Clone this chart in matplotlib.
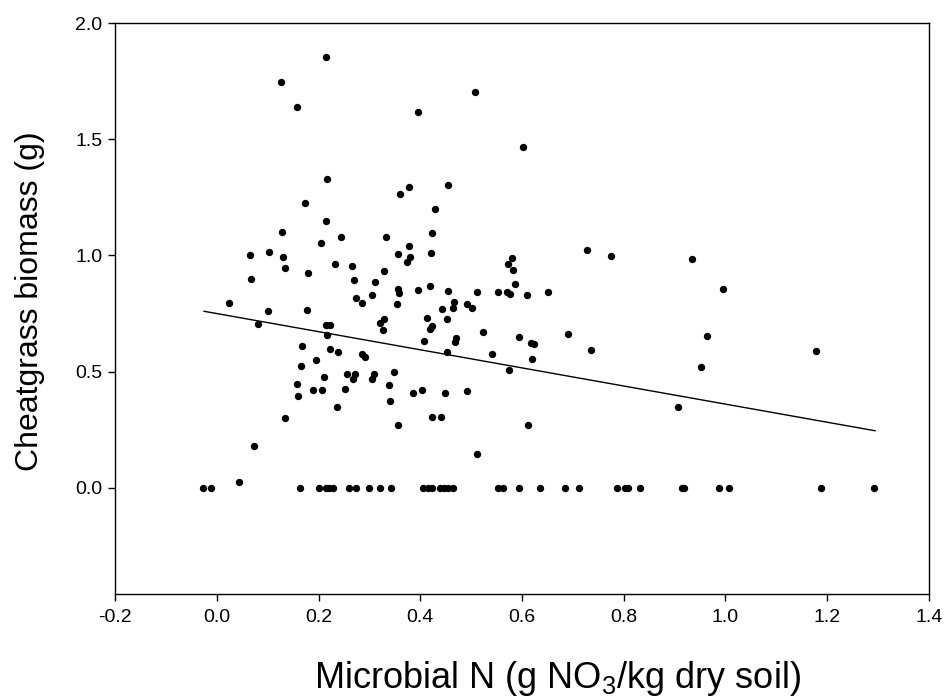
import matplotlib
matplotlib.use("Agg")
import matplotlib.pyplot as plt
from matplotlib.ticker import FormatStrFormatter

plt.rcParams['font.family'] = ['Liberation Sans', 'DejaVu Sans']
plt.rcParams['axes.unicode_minus'] = False
plt.rcParams['mathtext.fontset'] = 'custom'
plt.rcParams['mathtext.rm'] = 'Liberation Sans'

# Non-zero biomass observations (Microbial N, biomass)
pos_x = [0.215, 0.126, 0.157, 0.216, 0.360, 0.174, 0.215, 0.129, 0.244, 0.205,
         0.333, 0.508, 0.396, 0.601, 0.377, 0.455, 0.428, 0.423, 0.378, 0.728,
         0.065, 0.103, 0.130, 0.356, 0.135, 0.180, 0.232, 0.266, 0.328, 0.068,
         0.269, 0.311, 0.356, 0.358, 0.274, 0.286, 0.306, 0.354, 0.025, 0.101,
         0.177, 0.081, 0.215, 0.222, 0.217, 0.329, 0.321, 0.326, 0.168, 0.223,
         0.239, 0.285, 0.291, 0.195, 0.166, 0.256, 0.272, 0.267, 0.349, 0.210,
         0.310, 0.305, 0.158, 0.160, 0.189, 0.207, 0.252, 0.339, 0.340, 0.236,
         0.135, 0.421, 0.379, 0.373, 0.580, 0.573, 0.583, 0.774, 0.396, 0.419,
         0.455, 0.512, 0.552, 0.571, 0.577, 0.586, 0.609, 0.651, 0.466, 0.464,
         0.442, 0.491, 0.502, 0.413, 0.453, 0.423, 0.419, 0.524, 0.470, 0.468,
         0.594, 0.690, 0.617, 0.623, 0.408, 0.736, 0.453, 0.541, 0.619, 0.575,
         0.385, 0.404, 0.449, 0.491, 0.424, 0.441, 0.907, 0.935, 0.995, 0.964,
         1.178, 0.951, 0.074, 0.044, 0.356, 0.512, 0.612]
pos_y = [1.855, 1.747, 1.637, 1.328, 1.265, 1.227, 1.150, 1.099, 1.081, 1.052,
         1.078, 1.703, 1.616, 1.468, 1.296, 1.305, 1.201, 1.098, 1.043, 1.022,
         1.003, 1.013, 0.993, 1.007, 0.948, 0.925, 0.964, 0.955, 0.932, 0.899,
         0.894, 0.887, 0.858, 0.839, 0.819, 0.796, 0.828, 0.790, 0.796, 0.763,
         0.767, 0.707, 0.703, 0.703, 0.657, 0.725, 0.708, 0.681, 0.612, 0.598,
         0.585, 0.576, 0.563, 0.550, 0.524, 0.491, 0.491, 0.470, 0.497, 0.477,
         0.490, 0.470, 0.448, 0.394, 0.420, 0.420, 0.425, 0.441, 0.376, 0.348,
         0.303, 1.010, 0.994, 0.971, 0.988, 0.963, 0.938, 0.997, 0.851, 0.868,
         0.848, 0.842, 0.845, 0.842, 0.833, 0.876, 0.832, 0.842, 0.802, 0.775,
         0.769, 0.790, 0.773, 0.731, 0.727, 0.695, 0.684, 0.669, 0.644, 0.629,
         0.650, 0.664, 0.624, 0.621, 0.634, 0.595, 0.585, 0.578, 0.553, 0.507,
         0.408, 0.420, 0.409, 0.419, 0.307, 0.305, 0.348, 0.987, 0.858, 0.654,
         0.588, 0.519, 0.182, 0.027, 0.270, 0.147, 0.270]

# Zero-biomass observations (Microbial N values)
zero_x = [-0.028, -0.012, 0.163, 0.200, 0.214, 0.221, 0.229, 0.260, 0.274, 0.299,
          0.321, 0.342, 0.405, 0.416, 0.424, 0.439, 0.447, 0.455, 0.464, 0.552,
          0.562, 0.595, 0.636, 0.685, 0.712, 0.787, 0.802, 0.809, 0.832, 0.915,
          0.918, 0.987, 1.006, 1.187, 1.292]
zero_y = [0.0] * len(zero_x)

# Regression line end points
fit_x = [-0.025, 1.294]
fit_y = [0.760, 0.246]

x_ticks = [-0.2, 0.0, 0.2, 0.4, 0.6, 0.8, 1.0, 1.2, 1.4]
y_ticks = [0.0, 0.5, 1.0, 1.5, 2.0]

fig = plt.figure(figsize=(9.46, 6.99), dpi=100)
ax = fig.add_axes([0.1216, 0.150, 0.8604, 0.817])

ax.plot(pos_x, pos_y, 'o', color='black', markersize=5.3, markeredgewidth=0, zorder=3)
ax.plot(zero_x, zero_y, 'o', color='black', markersize=5.3, markeredgewidth=0, zorder=3)
ax.plot(fit_x, fit_y, '-', color='black', linewidth=1.0, zorder=2)

ax.set_xlim(-0.2, 1.4)
ax.set_ylim(-0.457, 2.0)
ax.set_xticks(x_ticks)
ax.set_yticks(y_ticks)
ax.xaxis.set_major_formatter(FormatStrFormatter('%.1f'))
ax.yaxis.set_major_formatter(FormatStrFormatter('%.1f'))

for s in ax.spines.values():
    s.set_linewidth(1.0)
    s.set_color('black')

ax.tick_params(axis='both', direction='out', length=5, width=1.0,
               labelsize=14, colors='black')
ax.tick_params(axis='x', pad=6)
ax.tick_params(axis='y', pad=4)
ax.tick_params(top=False, right=False)

ax.set_xlabel('Microbial N (g NO$_3$/kg dry soil)', fontsize=26, va='center')
ax.xaxis.set_label_coords(0.544, -0.147)
ax.set_ylabel('Cheatgrass biomass (g)', fontsize=23, va='center')
ax.yaxis.set_label_coords(-0.105, 0.513)

fig.savefig('out.png', dpi=100, facecolor='white')
